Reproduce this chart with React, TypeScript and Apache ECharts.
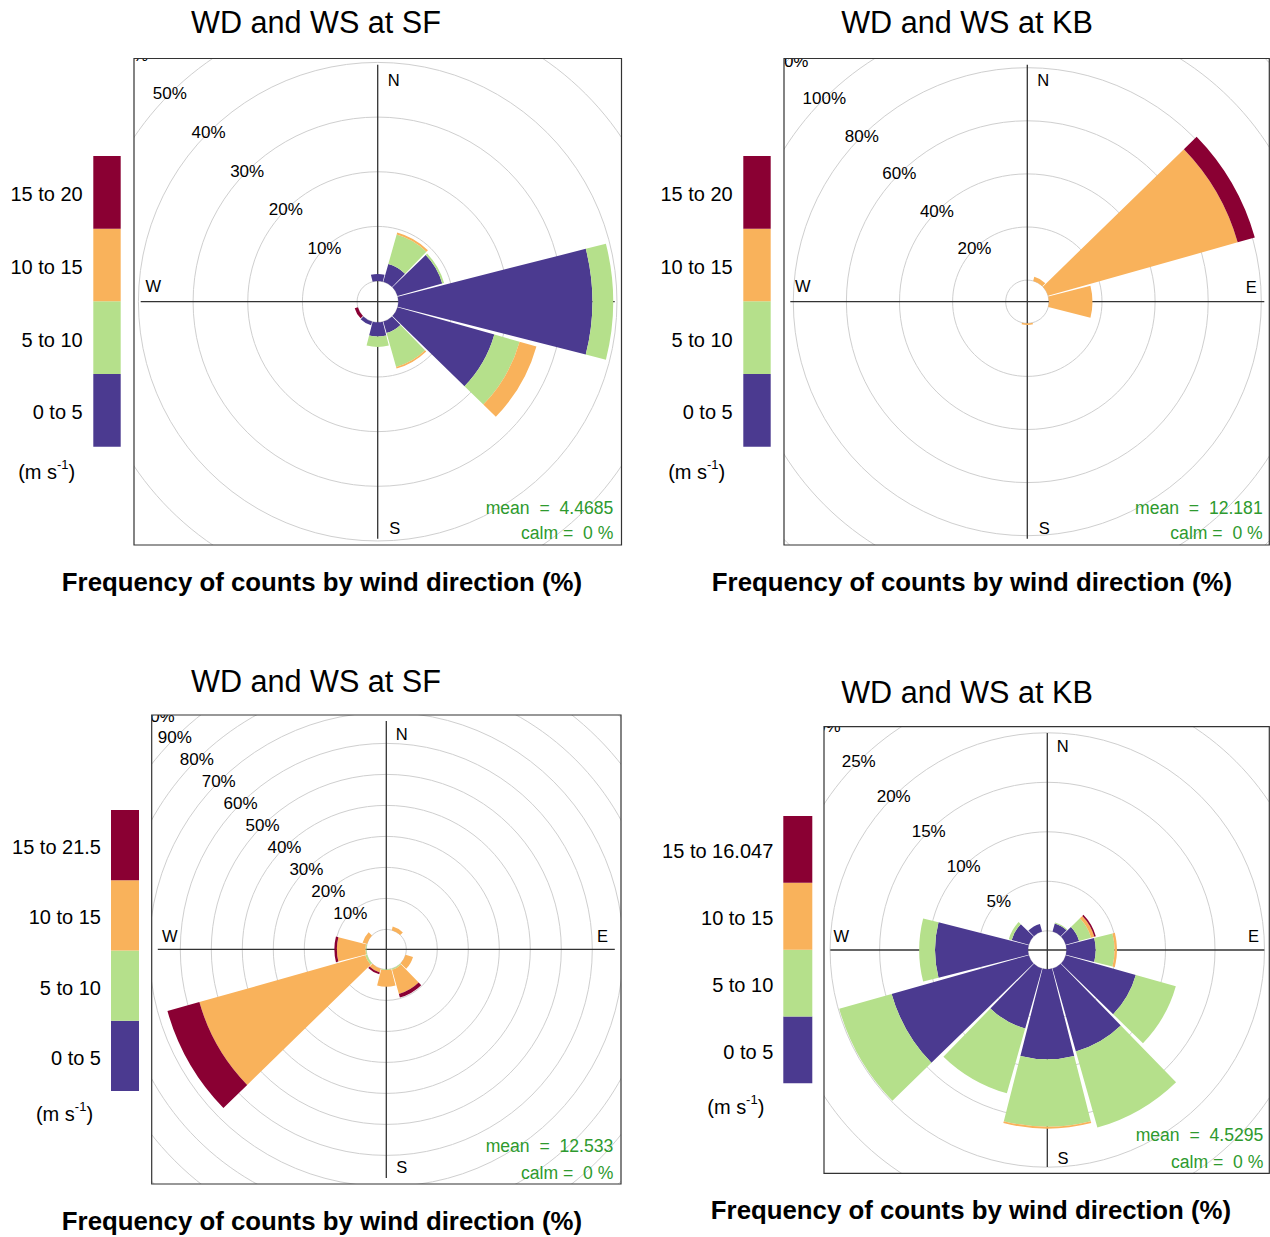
import React, { useEffect, useRef } from "react";
import * as echarts from "echarts";

// ---------- data ----------
const DIRECTIONS = [0, 30, 60, 90, 120, 150, 180, 210, 240, 270, 300, 330];
const SPEED_COLORS = ["#4B3A90", "#B5E08B", "#F9B25B", "#8A0033"];

// Panel 1: WD and WS at SF (top)
const SF_A_0_5 = [1.3, 3.4, 8.5, 35.5, 18.4, 2.2, 2.6, 0.7, 0, 0, 0, 0];
const SF_A_5_10 = [0, 5.6, 0.35, 3.8, 4.8, 6.45, 1.9, 0, 0, 0, 0, 0];
const SF_A_10_15 = [0, 0.4, 0, 0, 3.2, 0.3, 0, 0, 0, 0, 0, 0];
const SF_A_15_20 = [0, 0, 0, 0, 0, 0, 0, 0, 0.6, 0, 0, 0];
const SF_A_BINS = ["0 to 5", "5 to 10", "10 to 15", "15 to 20"];

// Panel 2: WD and WS at KB (top)
const KB_A_0_5 = [0, 0, 0, 0, 0, 0, 0, 0, 0, 0, 0, 0];
const KB_A_5_10 = [0, 0, 0, 0, 0, 0, 0, 0, 0, 0, 0, 0];
const KB_A_10_15 = [0, 1.6, 74.2, 16.4, 0, 0, 0.6, 0, 0, 0, 0, 0];
const KB_A_15_20 = [0, 0, 6.7, 0, 0, 0, 0, 0, 0, 0, 0, 0];
const KB_A_BINS = ["0 to 5", "5 to 10", "10 to 15", "15 to 20"];

// Panel 3: WD and WS at SF (bottom)
const SF_B_0_5 = [0, 0, 0, 0, 0, 0, 0, 0, 0, 0, 0, 0];
const SF_B_5_10 = [0, 0, 0, 0, 0, 0.4, 0.2, 0, 0.6, 0.3, 0, 0];
const SF_B_10_15 = [0, 1.2, 0, 0, 2.5, 8.1, 5.4, 1.3, 55.6, 9.2, 1.5, 0];
const SF_B_15_21 = [0, 0, 0, 0, 0, 1.2, 0, 0.6, 10.7, 0.8, 0, 0];
const SF_B_BINS = ["0 to 5", "5 to 10", "10 to 15", "15 to 21.5"];

// Panel 4: WD and WS at KB (bottom)
const KB_B_0_5 = [0, 0.85, 1.4, 2.95, 7.35, 8.7, 9.1, 6.3, 14.4, 9.4, 1.8, 0.8];
const KB_B_5_10 = [0, 0.1, 1.25, 1.9, 4.2, 8.0, 6.8, 6.8, 5.5, 1.6, 0.3, 0];
const KB_B_10_15 = [0, 0, 0.35, 0.25, 0, 0, 0.2, 0, 0, 0, 0, 0];
const KB_B_15_16 = [0, 0, 0.15, 0, 0, 0, 0, 0, 0, 0, 0, 0];
const KB_B_BINS = ["0 to 5", "5 to 10", "10 to 15", "15 to 16.047"];

const MEANS = ["4.4685", "12.181", "12.533", "4.5295"];
const CALMS = ["0", "0", "0", "0"];
const TITLES = ["WD and WS at SF", "WD and WS at KB", "WD and WS at SF", "WD and WS at KB"];
const RING_MAX = [60, 120, 100, 30];
const RING_STEP = [10, 20, 10, 5];
const X_LABEL = "Frequency of counts by wind direction (%)";

// ---------- layout ----------
const FONT = '"Liberation Sans", Arial, Helvetica, sans-serif';
const W = 1270;
const H = 1237;

type Layout = {
  cx: number; cy: number; box: [number, number, number, number]; L: number;
  hole: number; ppu: number; quad: [number, number, number, number];
  nsew: number[][]; leg: { x0: number; x1: number; yT: number; yB: number; lr: number; ux: number; uy: number };
  title: [number, number]; xlab: [number, number]; meanR: number; meanY: [number, number];
};

const LAYOUT: Layout[] = [
  {
    cx: 377.7, cy: 301.7, box: [134, 58.5, 621.5, 545], L: 237, hole: 20.6, ppu: 5.467,
    quad: [0, 0, 702, 630],
    nsew: [[16, -222], [224, -15.2], [17, 225.8], [-224.4, -15.5]],
    leg: { x0: 93.3, x1: 120.7, yT: 156, yB: 446.7, lr: 82.7, ux: 46.7, uy: 471.5 },
    title: [316, 21.7], xlab: [322, 582], meanR: 613.3, meanY: [507.7, 533.3],
  },
  {
    cx: 1027.3, cy: 301.7, box: [784, 58.5, 1269.3, 545], L: 237, hole: 21.6, ppu: 2.655,
    quad: [702, 0, 1270, 630],
    nsew: [[16, -222], [224, -15.2], [17, 225.8], [-224.4, -15.5]],
    leg: { x0: 743.3, x1: 770.7, yT: 156, yB: 446.7, lr: 732.7, ux: 696.7, uy: 471.5 },
    title: [967, 21.7], xlab: [972, 582], meanR: 1262.7, meanY: [507.7, 533.3],
  },
  {
    cx: 386.3, cy: 949.4, box: [151.7, 715, 621, 1184], L: 228.5, hole: 20, ppu: 3.1,
    quad: [0, 630, 702, 1237],
    nsew: [[15.4, -215], [216.2, -13], [15.4, 217.8], [-216.6, -13.3]],
    leg: { x0: 111, x1: 139, yT: 810, yB: 1091, lr: 101, ux: 64.5, uy: 1114 },
    title: [316, 680.5], xlab: [322, 1221], meanR: 613.3, meanY: [1146, 1172.7],
  },
  {
    cx: 1047.3, cy: 950, box: [824, 726.7, 1269.3, 1173.3], L: 217, hole: 19.2, ppu: 9.9,
    quad: [702, 630, 1270, 1237],
    nsew: [[15.3, -204], [206.1, -13.8], [15.6, 208.3], [-206, -14]],
    leg: { x0: 783.3, x1: 812.3, yT: 816, yB: 1083.3, lr: 773.3, ux: 735.8, uy: 1106.5 },
    title: [967, 691.5], xlab: [971, 1210], meanR: 1263.3, meanY: [1135, 1161.7],
  },
];

const PANEL_SERIES = [
  [SF_A_0_5, SF_A_5_10, SF_A_10_15, SF_A_15_20],
  [KB_A_0_5, KB_A_5_10, KB_A_10_15, KB_A_15_20],
  [SF_B_0_5, SF_B_5_10, SF_B_10_15, SF_B_15_21],
  [KB_B_0_5, KB_B_5_10, KB_B_10_15, KB_B_15_16],
];
const PANEL_BINS = [SF_A_BINS, KB_A_BINS, SF_B_BINS, KB_B_BINS];

// categories start at 330 so that the radius axis (drawn at startAngle) lies on the NW diagonal
const ORDER = [330, 0, 30, 60, 90, 120, 150, 180, 210, 240, 270, 300];
const reorder = (arr: number[]) => ORDER.map((d) => arr[DIRECTIONS.indexOf(d)]);

function text(x: number, y: number, t: string, size: number, opts: any = {}) {
  const align = opts.align || "center";
  return {
    type: "text",
    z: opts.z ?? 12,
    x,
    y,
    silent: true,
    style: {
      text: t,
      font: `${opts.bold ? "bold " : ""}${size}px ${FONT}`,
      fill: opts.color || "#000",
      align,
      textAlign: align,
      verticalAlign: "middle",
      textVerticalAlign: "middle",
    },
  };
}

function buildOption() {
  const polar: any[] = [];
  const angleAxis: any[] = [];
  const radiusAxis: any[] = [];
  const series: any[] = [];
  const graphic: any[] = [];

  LAYOUT.forEach((lay, p) => {
    polar.push({ center: [lay.cx, lay.cy], radius: [lay.hole, lay.hole + lay.ppu * RING_MAX[p]] });
    angleAxis.push({
      polarIndex: p,
      type: "category",
      data: ORDER.map((d) => `${d}°`),
      startAngle: 135,
      clockwise: true,
      axisLine: { show: false },
      axisTick: { show: false },
      axisLabel: { show: false },
      splitLine: { show: false },
      z: 0,
    });
    radiusAxis.push({
      polarIndex: p,
      type: "value",
      min: 0,
      max: RING_MAX[p],
      interval: RING_STEP[p],
      axisLine: { show: false },
      axisTick: { show: false },
      axisLabel: {
        formatter: "{value}%",
        showMinLabel: false,
        margin: 0,
        align: "center",
        verticalAlign: "middle",
        fontSize: 17,
        fontFamily: FONT,
        color: "#000",
      },
      splitLine: { show: true, lineStyle: { color: "#cfcfcf", width: 1 } },
      z: 0,
    });
    PANEL_SERIES[p].forEach((vals, k) => {
      series.push({
        type: "bar",
        coordinateSystem: "polar",
        polarIndex: p,
        stack: "rose" + p,
        name: PANEL_BINS[p][k],
        data: reorder(vals),
        barCategoryGap: "5%",
        itemStyle: { color: SPEED_COLORS[k] },
        silent: true,
        z: 3,
      });
    });

    const [l, t, r, b] = lay.box;
    const [X0, Y0, X1, Y1] = lay.quad;
    // cross lines (beneath the wedges)
    graphic.push({ type: "line", z: 1, silent: true, shape: { x1: lay.cx - lay.L, y1: lay.cy, x2: lay.cx + lay.L, y2: lay.cy }, style: { stroke: "#333", lineWidth: 1.3 } });
    graphic.push({ type: "line", z: 1, silent: true, shape: { x1: lay.cx, y1: lay.cy - lay.L, x2: lay.cx, y2: lay.cy + lay.L }, style: { stroke: "#333", lineWidth: 1.3 } });
    ["N", "E", "S", "W"].forEach((c, i) => {
      graphic.push(text(lay.cx + lay.nsew[i][0], lay.cy + lay.nsew[i][1], c, 16.5, { z: 1 }));
    });
    // white frame outside the plot box (clips rings); side pieces overlap the strips to avoid seams
    const cover = (x: number, y: number, w: number, h: number) =>
      graphic.push({ type: "rect", z: 10, silent: true, shape: { x, y, width: Math.max(0, w), height: Math.max(0, h) }, style: { fill: "#fff" } });
    cover(X0, Y0, X1 - X0, t - Y0);
    cover(X0, b, X1 - X0, Y1 - b);
    cover(X0, t - 2, l - X0, b - t + 4);
    cover(r, t - 2, X1 - r, b - t + 4);
    // box
    graphic.push({ type: "rect", z: 11, silent: true, shape: { x: l, y: t, width: r - l, height: b - t }, style: { fill: "none", stroke: "#333", lineWidth: 1.2 } });
    // title, x label
    graphic.push(text(lay.title[0], lay.title[1], TITLES[p], 30.6));
    graphic.push(text(lay.xlab[0], lay.xlab[1], X_LABEL, 25.8, { bold: true }));
    // mean / calm
    graphic.push(text(lay.meanR, lay.meanY[0], `mean  =  ${MEANS[p]}`, 17.6, { align: "right", color: "#2E9A2E" }));
    graphic.push(text(lay.meanR, lay.meanY[1], `calm =  ${CALMS[p]} %`, 17.6, { align: "right", color: "#2E9A2E" }));
    // legend key
    const lg = lay.leg;
    const h = (lg.yB - lg.yT) / 4;
    PANEL_BINS[p].forEach((lab, k) => {
      const yb = lg.yB - k * h;
      graphic.push({ type: "rect", z: 12, silent: true, shape: { x: lg.x0, y: yb - h, width: lg.x1 - lg.x0, height: h }, style: { fill: SPEED_COLORS[k] } });
      graphic.push(text(lg.lr, yb - h / 2 + 2, lab, 20, { align: "right" }));
    });
    graphic.push({
      type: "text",
      z: 12,
      x: lg.ux,
      y: lg.uy,
      silent: true,
      style: {
        text: "{a|(m s}{b|-1}{a|)}",
        rich: {
          a: { fontSize: 20, fontFamily: FONT, fill: "#000", lineHeight: 28 },
          b: { fontSize: 13, fontFamily: FONT, fill: "#000", lineHeight: 13, verticalAlign: "top" },
        },
        align: "center",
        textAlign: "center",
        verticalAlign: "middle",
        textVerticalAlign: "middle",
      },
    });
  });

  return {
    animation: false,
    backgroundColor: "#fff",
    polar,
    angleAxis,
    radiusAxis,
    series,
    graphic: { elements: graphic },
  };
}

export default function App() {
  const ref = useRef<HTMLDivElement>(null);
  useEffect(() => {
    if (!ref.current) return;
    const chart = echarts.init(ref.current, null, { renderer: "svg" });
    chart.setOption(buildOption() as any);
    return () => chart.dispose();
  }, []);
  return <div ref={ref} style={{ position: "absolute", left: 0, top: 0, width: W, height: H }} />;
}
